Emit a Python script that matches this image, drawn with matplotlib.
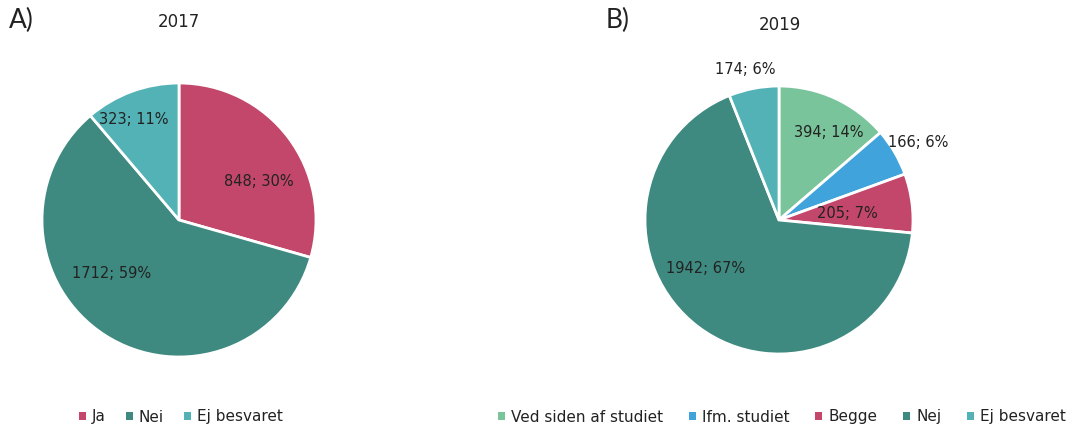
import matplotlib.pyplot as plt
from matplotlib.patches import Patch

plt.rcParams["font.family"] = ["DejaVu Sans"]

# 2017 survey
LABELS_2017 = ["Ja", "Nei", "Ej besvaret"]
COUNTS_2017 = [848, 1712, 323]
PCT_2017 = [30, 59, 11]

# 2019 survey
LABELS_2019 = ["Ved siden af studiet", "Ifm. studiet", "Begge", "Nej", "Ej besvaret"]
COUNTS_2019 = [394, 166, 205, 1942, 174]
PCT_2019 = [14, 6, 7, 67, 6]

PINK = "#C2476B"
DARK_TEAL = "#3E8A80"
LIGHT_TEAL = "#52B2B5"
MINT = "#7AC49B"
BLUE = "#41A3DC"

COLORS_2017 = [PINK, DARK_TEAL, LIGHT_TEAL]
COLORS_2019 = [MINT, BLUE, PINK, DARK_TEAL, LIGHT_TEAL]

# label placement in units of the pie radius
TEXT_POS_2017 = [(0.58, 0.28), (-0.49, -0.39), (-0.33, 0.73)]
TEXT_POS_2019 = [(0.37, 0.65), (1.04, 0.58), (0.51, 0.05), (-0.55, -0.36), (-0.25, 1.12)]

W, H = 1072, 426
fig = plt.figure(figsize=(W / 100, H / 100), dpi=100)


def px_axes(cx, cy, r):
    # square axes centred on a pixel position (y from top)
    return fig.add_axes([(cx - r) / W, 1 - (cy + r) / H, 2 * r / W, 2 * r / H])


def draw_pie(ax, counts, pcts, colors, text_pos):
    ax.pie(counts, colors=colors, startangle=90, counterclock=False,
           wedgeprops=dict(edgecolor="white", linewidth=2))
    for n, p, (x, y) in zip(counts, pcts, text_pos):
        ax.text(x, y, f"{n}; {p}%", ha="center", va="center",
                fontsize=10.5, color="#222222")
    ax.set_xlim(-1, 1)
    ax.set_ylim(-1, 1)
    ax.set_aspect("equal")
    ax.axis("off")


ax_a = px_axes(179, 220, 137)
draw_pie(ax_a, COUNTS_2017, PCT_2017, COLORS_2017, TEXT_POS_2017)

ax_b = px_axes(779, 220, 134)
draw_pie(ax_b, COUNTS_2019, PCT_2019, COLORS_2019, TEXT_POS_2019)

heading = dict(family="Lato", weight="normal", fontsize=19, va="center", ha="left", color="#222222")
fig.text(9 / W, 1 - 20 / H, "A)", **heading)
fig.text(606 / W, 1 - 20 / H, "B)", **heading)
fig.text(179 / W, 1 - 22 / H, "2017", fontsize=12, va="center", ha="center", color="#222222")
fig.text(780 / W, 1 - 25 / H, "2019", fontsize=12, va="center", ha="center", color="#222222")


def add_legend(labels, colors, cx, spacing):
    handles = [Patch(facecolor=c, edgecolor="none") for c in colors]
    fig.legend(handles, labels, loc="center", bbox_to_anchor=(cx / W, 1 - 417 / H),
               ncol=len(labels), frameon=False, fontsize=11,
               handlelength=0.45, handleheight=0.45, handletextpad=0.4,
               columnspacing=spacing, labelcolor="#222222")


add_legend(LABELS_2017, COLORS_2017, 181, 1.3)
add_legend(LABELS_2019, COLORS_2019, 782, 1.7)

fig.savefig("out.png", dpi=100)
